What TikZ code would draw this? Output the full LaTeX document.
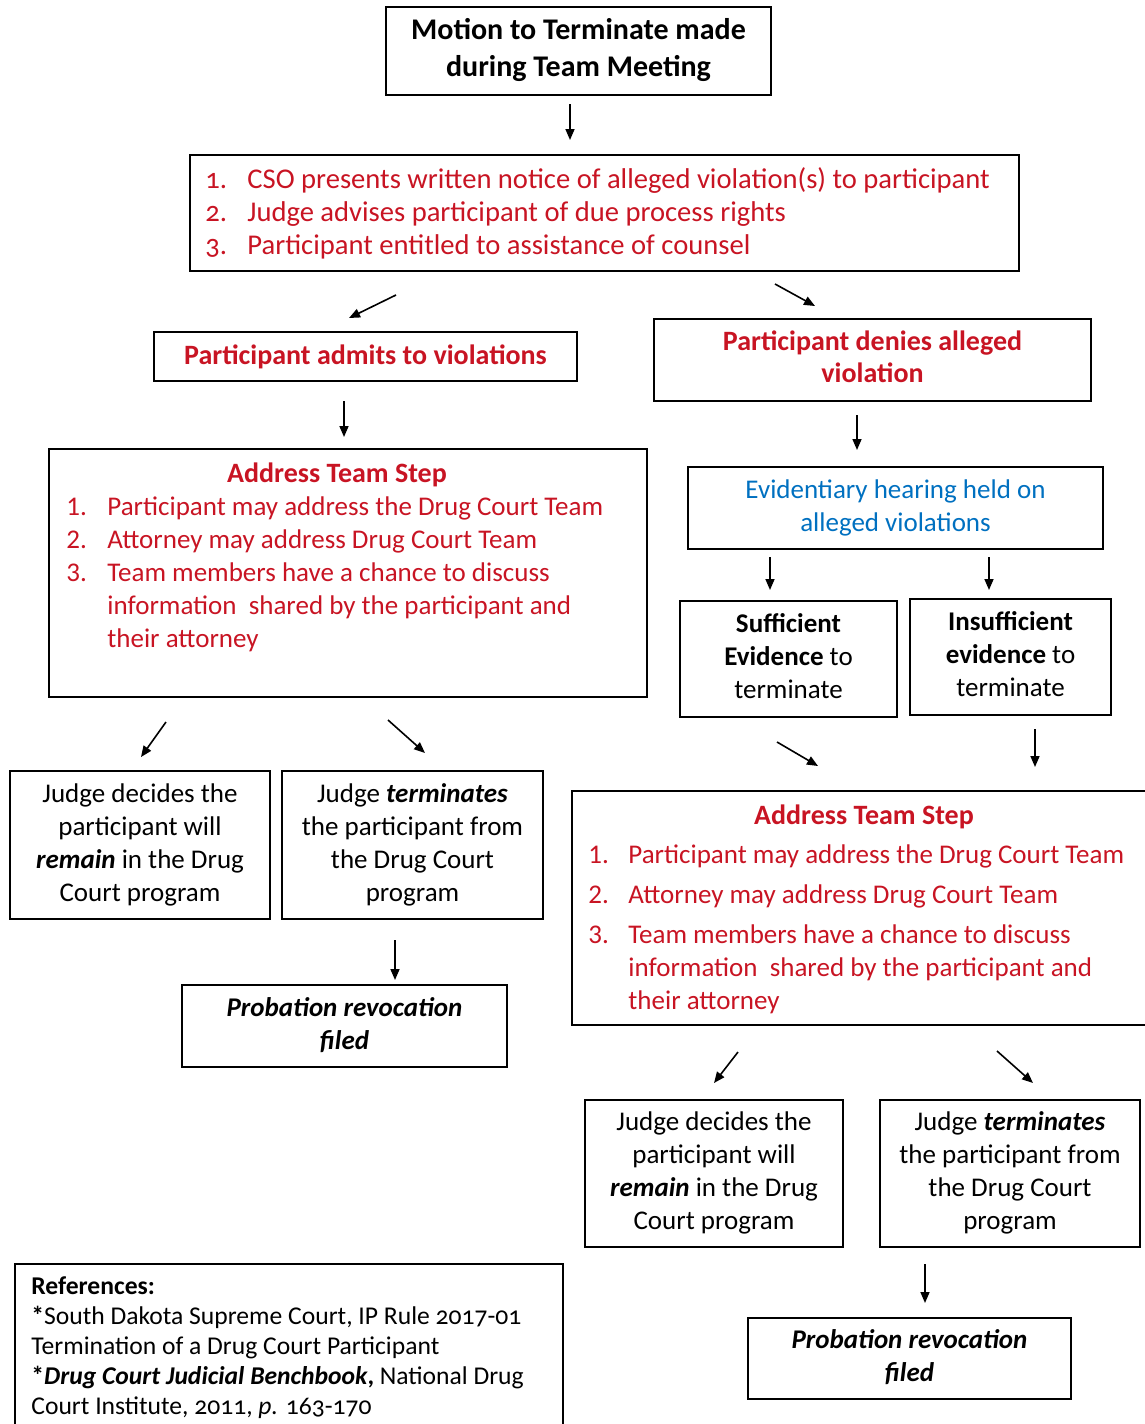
\documentclass[tikz,border=0pt]{standalone}
\usepackage{fontspec}
\setmainfont{Carlito}
\usetikzlibrary{arrows.meta}
\definecolor{dcred}{RGB}{200,20,35}
\definecolor{dcblue}{RGB}{0,112,192}
\newcommand\fbody{\fontsize{13.5}{16.5}\selectfont}
\newcommand\fnotice{\fontsize{14.3}{16.5}\selectfont}
\newcommand\fhead{\fontsize{14}{16}\selectfont\bfseries}
\newcommand\fmotion{\fontsize{15}{18}\selectfont\bfseries}
\newcommand\fref{\fontsize{12.8}{15}\selectfont}
\newcommand\onum[1]{{\addfontfeatures{Numbers=OldStyle}#1}}
\newcommand\numbox[1]{\makebox[20.5pt][l]{#1}}
\begin{document}
\begin{tikzpicture}[x=0.5pt,y=-0.5pt,
  box/.style={draw, line width=1pt, inner sep=0pt, align=center},
  txt/.style={inner sep=0pt, align=left, anchor=north west},
  ctxt/.style={inner sep=0pt, align=center, anchor=north},
  arr/.style={-{Triangle[length=5.5pt,width=4.5pt]}, line width=0.8pt}]
\useasboundingbox (0,0) rectangle (1145,1424);

% ---------- boxes ----------
\node[box, minimum width=192.5pt, minimum height=44pt, font=\fmotion] (motion) at (578.5,51)
  {\strut Motion to Terminate made\\[0.5pt] during Team Meeting\strut};
\node[box, minimum width=414.5pt, minimum height=58pt] (notice) at (604.5,213) {};
\node[box, minimum width=211.5pt, minimum height=24.5pt, font=\fhead, text=dcred] (admits) at (365.5,356.5)
  {Participant admits to violations};
\node[box, minimum width=218.5pt, minimum height=41pt, font=\fhead, text=dcred] (denies) at (872.5,360)
  {\strut Participant denies alleged\\ violation\strut};
\node[box, minimum width=299pt, minimum height=124pt] (addrL) at (348,573) {};
\node[box, minimum width=207.5pt, minimum height=41pt, font=\fbody, text=dcblue] (evid) at (895.5,508)
  {\strut Evidentiary hearing held on\\ alleged violations\strut};
\node[box, minimum width=108.5pt, minimum height=58pt, font=\fbody] (suff) at (788.5,659)
  {\strut\textbf{Sufficient}\\ \textbf{Evidence} to\\ terminate\strut};
\node[box, minimum width=100.5pt, minimum height=58pt, font=\fbody] (insuff) at (1010.5,657)
  {\strut\textbf{Insufficient}\\ \textbf{evidence} to\\ terminate\strut};
\node[box, minimum width=130pt, minimum height=74pt, font=\fbody] (remainL) at (140,845)
  {\strut Judge decides the\\ participant will\\ \textbf{\textit{remain}} in the Drug\\ Court program\strut};
\node[box, minimum width=130.5pt, minimum height=74pt, font=\fbody] (termL) at (412.5,845)
  {\strut Judge \textbf{\textit{terminates}}\\ the participant from\\ the Drug Court\\ program\strut};
\node[box, minimum width=162.5pt, minimum height=41pt, font=\fbody\bfseries\itshape] (probL) at (344.5,1026)
  {\strut Probation revocation\\ filed\strut};
\node[box, minimum width=292pt, minimum height=117pt] (addrR) at (864,908) {};
\node[box, minimum width=129pt, minimum height=73.5pt, font=\fbody] (remainR) at (714,1173.5)
  {\strut Judge decides the\\ participant will\\ \textbf{\textit{remain}} in the Drug\\ Court program\strut};
\node[box, minimum width=130pt, minimum height=73.5pt, font=\fbody] (termR) at (1010,1173.5)
  {\strut Judge \textbf{\textit{terminates}}\\ the participant from\\ the Drug Court\\ program\strut};
\node[box, minimum width=161.5pt, minimum height=40.5pt, font=\fbody\bfseries\itshape] (probR) at (909.5,1358.5)
  {\strut Probation revocation\\ filed\strut};
\node[box, minimum width=274pt, minimum height=88pt] (refs) at (289,1352) {};

% ---------- list texts ----------
\node[txt, font=\fnotice, text=dcred] (noticeT) at (205,165)
  {\strut\makebox[21pt][l]{\onum{1.}}CSO presents written notice of alleged violation(s) to participant\\
   \makebox[21pt][l]{\onum{2.}}Judge advises participant of due process rights\\
   \makebox[21pt][l]{\onum{3.}}Participant entitled to assistance of counsel};

\node[ctxt, font=\fhead, text=dcred] (addrLtitle) at (337,460) {\strut Address Team Step};
\node[txt, font=\fbody, text=dcred] (addrLT) at (66,492)
  {\strut\numbox{1.}Participant may address the Drug Court Team\\
   \numbox{2.}Attorney may address Drug Court Team\\
   \numbox{3.}Team members have a chance to discuss\\
   \hspace*{20.5pt}information\ \ shared by the participant and\\
   \hspace*{20.5pt}their attorney};

\node[ctxt, font=\fhead, text=dcred] (addrRtitle) at (864,802) {\strut Address Team Step};
\node[txt, font=\fbody, text=dcred] (addrRT) at (588,840)
  {\strut\makebox[20pt][l]{1.}Participant may address the Drug Court Team\\[3.5pt]
   \makebox[20pt][l]{2.}Attorney may address Drug Court Team\\[3.5pt]
   \makebox[20pt][l]{3.}Team members have a chance to discuss\\
   \hspace*{20pt}information\ \ shared by the participant and\\
   \hspace*{20pt}their attorney};

\node[txt, font=\fref] (refsT) at (31,1273)
  {\strut\textbf{References:}\\
   \textbf{*}South Dakota Supreme Court, IP Rule \onum{2017-01}\\
   Termination of a Drug Court Participant\\
   \textbf{*\textit{Drug Court Judicial Benchbook},} National Drug\\
   Court Institute, \onum{2011}, \textit{p.} \onum{163-170}};

% ---------- arrows ----------
\coordinate (a1s) at (570,104);  \coordinate (a1e) at (570,140);
\coordinate (a2s) at (396,295);  \coordinate (a2e) at (349,318);
\coordinate (a3s) at (775,284);  \coordinate (a3e) at (815,306);
\coordinate (a4s) at (344,401);  \coordinate (a4e) at (344,437);
\coordinate (a5s) at (857,415);  \coordinate (a5e) at (857,450);
\coordinate (a6s) at (770,557);  \coordinate (a6e) at (770,590);
\coordinate (a7s) at (989,557);  \coordinate (a7e) at (989,590);
\coordinate (a8s) at (166,722);  \coordinate (a8e) at (141,757);
\coordinate (a9s) at (388,720);  \coordinate (a9e) at (425,753);
\coordinate (a10s) at (777,742); \coordinate (a10e) at (818,766);
\coordinate (a11s) at (1035,729); \coordinate (a11e) at (1035,767);
\coordinate (a12s) at (395,940); \coordinate (a12e) at (395,980);
\coordinate (a13s) at (738,1052); \coordinate (a13e) at (714,1083);
\coordinate (a14s) at (997,1051); \coordinate (a14e) at (1033,1083);
\coordinate (a15s) at (925,1264); \coordinate (a15e) at (925,1303);
\foreach \i in {1,...,15} {\draw[arr] (a\i s) -- (a\i e);}
\end{tikzpicture}
\end{document}
